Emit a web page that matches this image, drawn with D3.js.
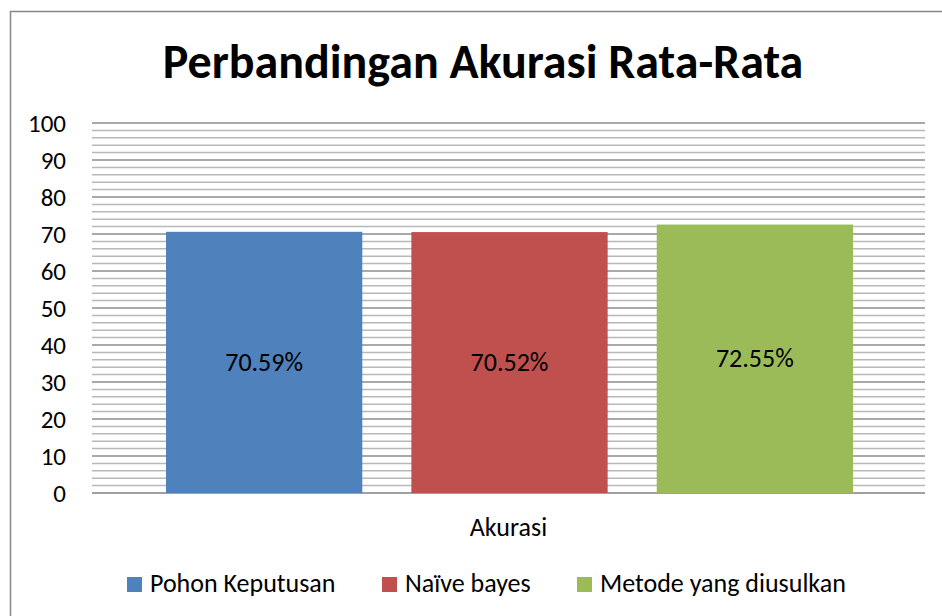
<!DOCTYPE html>
<html>
<head>
<meta charset="utf-8">
<script src="https://cdn.jsdelivr.net/npm/d3@7"></script>
<style>
  body { margin: 0; background: #fff; }
  svg text { font-family: Calibri, Carlito, "Open Sans", sans-serif; fill: #000; }
</style>
</head>
<body>
<div id="chart"></div>
<script>
// Data
const series = ["Pohon Keputusan", "Naïve bayes", "Metode yang diusulkan"];
const values = [70.59, 70.52, 72.55];
const labels = ["70.59%", "70.52%", "72.55%"];
const category = "Akurasi";
const colors = ["#4f81bd", "#c0504d", "#9bbb59"];
const yTicks = [0, 10, 20, 30, 40, 50, 60, 70, 80, 90, 100];

const W = 942, H = 616;
let margin = { top: 123, right: 17, bottom: 123, left: 92 },
    width = W - margin.left - margin.right,
    height = H - margin.top - margin.bottom;

let svg = d3.select("#chart").append("svg")
    .attr("width", W)
    .attr("height", H);

// outer chart border
svg.append("rect")
    .attr("x", 10.5).attr("y", 11.5)
    .attr("width", 940).attr("height", 620)
    .attr("fill", "none")
    .attr("stroke", "#888")
    .attr("stroke-width", 1.5);

svg.append("text")
    .attr("x", 483)
    .attr("y", 78)
    .attr("text-anchor", "middle")
    .style("font-size", "48px")
    .style("font-weight", "bold")
    .text("Perbandingan Akurasi Rata-Rata");

let g = svg.append("g")
    .attr("transform", "translate(" + margin.left + "," + margin.top + ")");

let y = d3.scaleLinear().domain([0, 100]).range([height, 0]);

// outer band for the single category, inner band for the series
let x0 = d3.scaleBand().domain([category]).range([0, width]).paddingOuter(0.0);
let x1 = d3.scaleBand().domain(series).range([74, width - 72]).paddingInner(0.2);

// minor gridlines (every 2)
g.append("g")
    .selectAll("line")
    .data(d3.range(2, 100, 2).filter(d => d % 10 !== 0))
    .join("line")
    .attr("x1", 0).attr("x2", width)
    .attr("y1", d => y(d)).attr("y2", d => y(d))
    .attr("stroke", "#b8b8b8")
    .attr("stroke-width", 1.5);

// major gridlines
g.append("g")
    .selectAll("line")
    .data(yTicks)
    .join("line")
    .attr("x1", 0).attr("x2", width)
    .attr("y1", d => y(d)).attr("y2", d => y(d))
    .attr("stroke", d => d === 0 ? "#808080" : "#8c8c8c")
    .attr("stroke-width", 1.5);

// y-axis labels
let yAxis = d3.axisLeft(y).tickValues(yTicks).tickSize(0).tickPadding(26);
g.append("g").call(yAxis)
    .call(a => a.select(".domain").remove())
    .selectAll("text")
    .style("font-size", "25px");

// bars
g.append("g")
    .selectAll("rect")
    .data(values)
    .join("rect")
    .attr("x", (d, i) => x1(series[i]))
    .attr("y", d => y(d))
    .attr("width", x1.bandwidth())
    .attr("height", d => height - y(d))
    .attr("fill", (d, i) => colors[i]);

// value labels
g.append("g")
    .selectAll("text")
    .data(values)
    .join("text")
    .attr("x", (d, i) => x1(series[i]) + x1.bandwidth() / 2)
    .attr("y", d => (y(d) + height) / 2)
    .attr("dy", "0.33em")
    .attr("text-anchor", "middle")
    .style("font-size", "26px")
    .text((d, i) => labels[i]);

// category label
g.append("text")
    .attr("x", x0(category) + x0.bandwidth() / 2)
    .attr("y", height + 43)
    .attr("text-anchor", "middle")
    .style("font-size", "26px")
    .text(category);

// legend
let legX = [127, 382, 577];
let legend = svg.append("g").attr("transform", "translate(0,577)");
series.forEach((s, i) => {
    legend.append("rect")
        .attr("x", legX[i]).attr("y", 0)
        .attr("width", 15).attr("height", 15)
        .attr("fill", colors[i]);
    legend.append("text")
        .attr("x", legX[i] + 23).attr("y", 15)
        .style("font-size", "26px")
        .text(s);
});
</script>
</body>
</html>
